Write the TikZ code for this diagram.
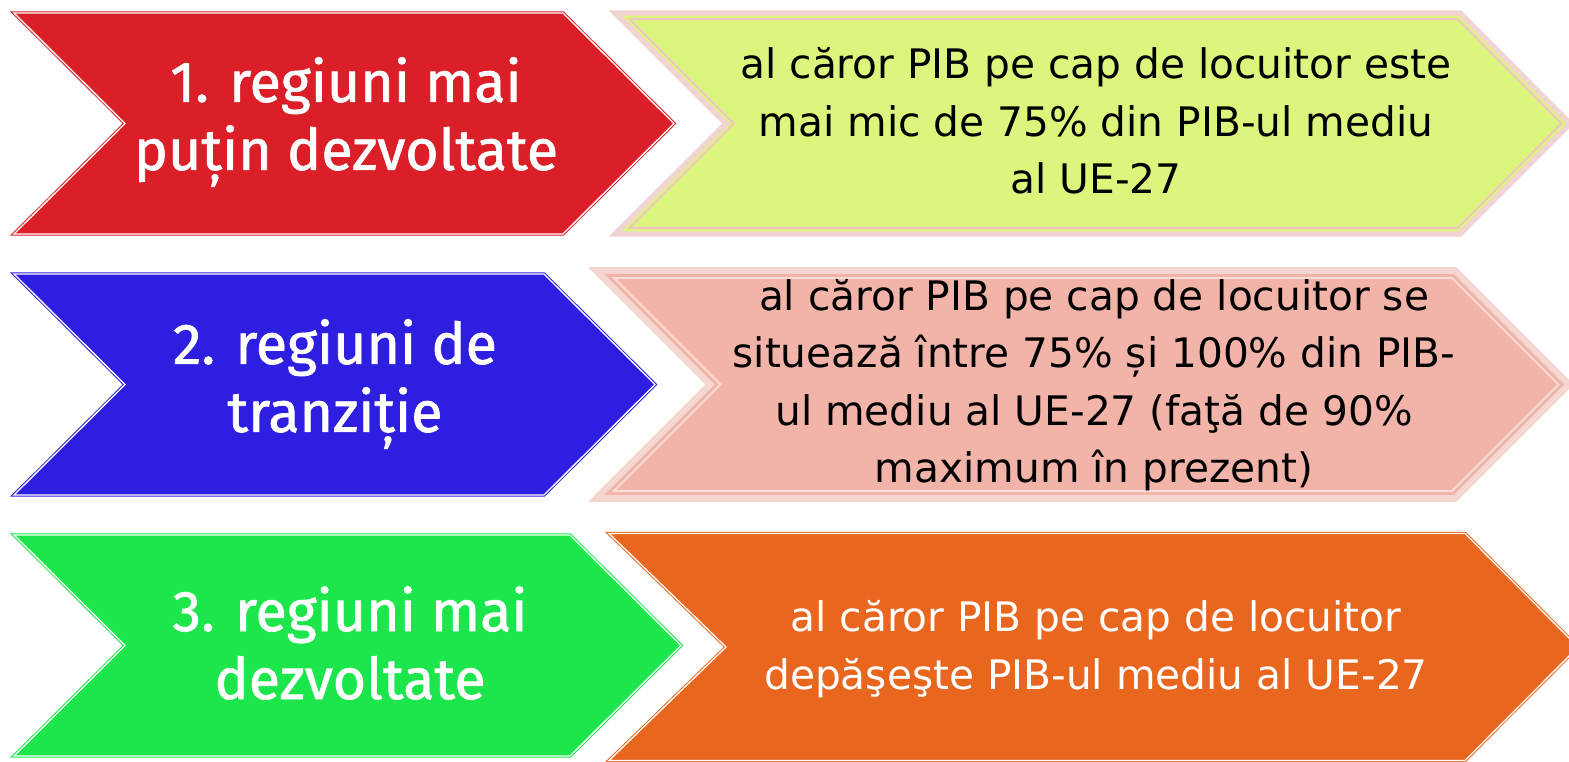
\documentclass[tikz,border=0pt]{standalone}
\usepackage{fontspec}
\setmainfont{DejaVu Sans}
\newfontfamily\labelfont[FakeBold=1.2]{Fira Sans}

\definecolor{regred}{RGB}{218,31,40}
\definecolor{regblue}{RGB}{46,31,224}
\definecolor{reggreen}{RGB}{28,230,75}
\definecolor{regorange}{RGB}{232,102,30}
\definecolor{limefill}{RGB}{220,245,124}
\definecolor{salmonfill}{RGB}{242,179,168}
\definecolor{bandpink}{RGB}{242,211,211}
\definecolor{bandsalmon}{RGB}{246,214,208}
\definecolor{thinpink}{RGB}{240,196,196}
\definecolor{thinsalmon}{RGB}{248,222,216}

\tikzset{every picture/.style={line width=0.75pt}}
\tikzset{
  dblchev/.style={line width=0.75pt, double=white, double distance=1pt, line join=miter},
  bandchev/.style={line width=4pt, line join=miter},
  thinchev/.style={line width=1.5pt, line join=miter},
  lefttext/.style={text=white, align=center, inner sep=0pt, font=\labelfont\fontsize{43}{51}\selectfont},
  righttext/.style={align=center, inner sep=0pt, font=\fontsize{30.5}{43}\selectfont}
}

\begin{document}
\begin{tikzpicture}[x=0.75pt,y=0.75pt,yscale=-1,xscale=1]
\useasboundingbox (0,0) rectangle (1569,761);

%Shape: Chevron red
\draw [dblchev, draw=regred, fill=regred] (14,13) -- (563,13) -- (674,123.5) -- (563,234) -- (14,234) -- (125,123.5) -- cycle ;
%Shape: Chevron blue
\draw [dblchev, draw=regblue, fill=regblue] (14,274) -- (544,274) -- (655,384.5) -- (544,495) -- (14,495) -- (125,384.5) -- cycle ;
%Shape: Chevron green
\draw [dblchev, draw=reggreen, fill=reggreen] (14,535) -- (570,535) -- (681,645.5) -- (570,756) -- (14,756) -- (125,645.5) -- cycle ;

%Shape: Chevron lime
\draw [bandchev, draw=bandpink, fill=limefill] (615,13) -- (1460,13) -- (1570,123.5) -- (1460,234) -- (615,234) -- (726,123.5) -- cycle ;
\draw [thinchev, draw=thinpink] (629.5,19) -- (1457.5,19) -- (1561.5,123.5) -- (1457.5,228) -- (629.5,228) -- (734,123.5) -- cycle ;
%Shape: Chevron salmon
\draw [bandchev, draw=bandsalmon, fill=salmonfill, line width=5pt] (596,270.5) -- (1455,270.5) -- (1569,384.5) -- (1455,498.5) -- (596,498.5) -- (710,384.5) -- cycle ;
\draw [thinchev, draw=thinsalmon] (614,278) -- (1452,278) -- (1558.5,384.5) -- (1452,491) -- (614,491) -- (720.5,384.5) -- cycle ;
%Shape: Chevron orange
\draw [dblchev, draw=regorange, fill=regorange] (609,533.5) -- (1465,533.5) -- (1578,647) -- (1465,760.5) -- (609,760.5) -- (726,647) -- cycle ;

% Text Node
\node [lefttext] (lbl1) at (346,122) {1. regiuni mai\\puțin dezvoltate};
% Text Node
\node [lefttext] (lbl2) at (335,384) {2. regiuni de\\tranziție};
% Text Node
\node [lefttext] (lbl3) at (350,643) {3. regiuni mai\\dezvoltate};
% Text Node
\node [righttext] (desc1) at (1096,121) {al căror PIB pe cap de locuitor este\\mai mic de 75\% din PIB-ul mediu\\al UE-27};
% Text Node
\node [righttext] (desc2) at (1094,385) {al căror PIB pe cap de locuitor se\\situează între 75\% și 100\% din PIB-\\ul mediu al UE-27 (faţă de 90\%\\maximum în prezent)};
% Text Node
\node [righttext, text=white] (desc3) at (1096,649) {al căror PIB pe cap de locuitor\\depăşeşte PIB-ul mediu al UE-27};

\end{tikzpicture}
\end{document}
